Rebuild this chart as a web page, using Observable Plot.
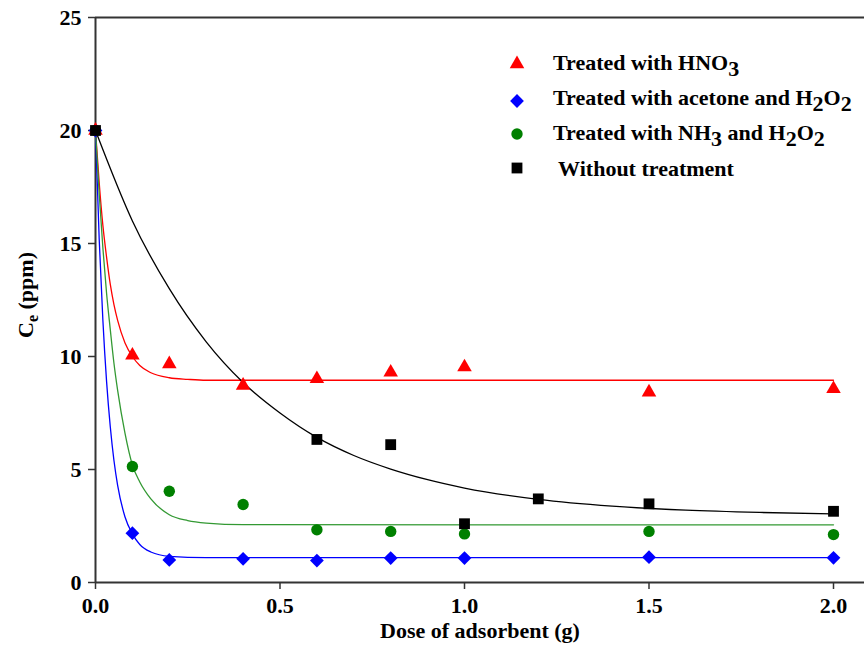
<!DOCTYPE html>
<html><head><meta charset="utf-8">
<script src="https://cdn.jsdelivr.net/npm/d3@7"></script>
<script src="https://cdn.jsdelivr.net/npm/@observablehq/plot@0.6"></script>
<style>
body{margin:0;background:#fff;}
#chart{position:relative;width:864px;height:666px;overflow:hidden;}
#chart svg{position:absolute;left:0;top:0;}
</style></head><body><div id="chart"></div>
<script>
// ---- measured points ----
const doseX = [0, 0.1, 0.2, 0.4, 0.6, 0.8, 1.0, 1.5, 2.0];
const hno3 = [20, 10.05, 9.67, 8.72, 9.01, 9.3, 9.53, 8.42, 8.57];
const acetone = [20, 2.18, 1.0, 1.05, 0.97, 1.08, 1.08, 1.12, 1.09];
const nh3 = [20, 5.13, 4.04, 3.45, 2.33, 2.26, 2.15, 2.26, 2.12];
const untreatedX = [0, 0.6, 0.8, 1.0, 1.2, 1.5, 2.0];
const untreated = [20, 6.33, 6.1, 2.6, 3.7, 3.48, 3.15];

// ---- fitted curves ----
const hno3FitX = [0, 0.01, 0.02, 0.03, 0.04, 0.05, 0.06, 0.08, 0.1, 0.12, 0.15, 0.2, 0.25, 0.3, 2.0];
const hno3FitY = [20, 17.7, 15.8, 14.4, 13.2, 12.3, 11.6, 10.6, 10.0, 9.6, 9.28, 9.06, 8.99, 8.95, 8.95];
const acetoneFitX = [0, 0.01, 0.02, 0.03, 0.04, 0.05, 0.06, 0.08, 0.1, 0.12, 0.15, 0.2, 0.3, 2.0];
const acetoneFitY = [20, 15.2, 11.6, 8.9, 6.9, 5.4, 4.3, 2.9, 2.15, 1.68, 1.35, 1.16, 1.1, 1.1];
const nh3FitX = [0, 0.01, 0.02, 0.03, 0.04, 0.05, 0.06, 0.08, 0.1, 0.12, 0.15, 0.2, 0.25, 0.3, 0.4, 2.0];
const nh3FitY = [20, 17.2, 14.8, 12.8, 11.2, 9.7, 8.5, 6.6, 5.2, 4.45, 3.7, 3.0, 2.74, 2.63, 2.56, 2.55];
const untreatedFitX = [0, 0.1, 0.2, 0.3, 0.4, 0.5, 0.6, 0.7, 0.8, 0.9, 1.0, 1.2, 1.4, 1.6, 1.8, 2.0];
const untreatedFitY = [20, 16.0, 13.0, 10.65, 8.85, 7.5, 6.42, 5.62, 5.02, 4.55, 4.18, 3.68, 3.38, 3.2, 3.1, 3.04];

// ---- labels ----
const seriesNames = ["Treated with HNO3", "Treated with acetone and H2O2", "Treated with NH3 and H2O2", " Without treatment"];
const seriesColors = ["#ff0000", "#0000ff", "#008000", "#000000"];
const lineColors = ["#ff0000", "#0000ff", "#339933", "#000000"];
const seriesSymbols = ["triangle", "diamond2", "circle", "square"];
const seriesR = [5.4, 6.2, 5.7, 6.1];
const xTicks = [0, 0.5, 1.0, 1.5, 2.0];
const yTicks = [0, 5, 10, 15, 20, 25];
const xTitle = "Dose of adsorbent (g)";
const yTitleMain = "C", yTitleSub = "e", yTitleRest = " (ppm)";

const pts = (xs, ys) => xs.map((x, i) => ({x, y: ys[i]}));
const pointSets = [pts(doseX, hno3), pts(doseX, acetone), pts(doseX, nh3), pts(untreatedX, untreated)];
const fitSets = [pts(hno3FitX, hno3FitY), pts(acetoneFitX, acetoneFitY), pts(nh3FitX, nh3FitY), pts(untreatedFitX, untreatedFitY)];

const FONT = '"Liberation Serif", "Times New Roman", serif';
const axisColor = "#333";

const marks = [
  Plot.ruleY([0, 25], {stroke: axisColor, strokeWidth: 2}),
  Plot.ruleX([0], {stroke: axisColor, strokeWidth: 2}),
  Plot.axisX({ticks: xTicks, tickFormat: d3.format(".1f"), tickSize: 7, tickPadding: 8, stroke: axisColor, strokeWidth: 1.5, label: null}),
  Plot.axisY({ticks: yTicks, tickSize: 7, tickPadding: 7, stroke: axisColor, strokeWidth: 1.5, label: null})
];
fitSets.forEach((d, i) => marks.push(Plot.line(d, {x: "x", y: "y", stroke: lineColors[i], strokeWidth: 1.3, curve: "monotone-x"})));
[2, 1, 0, 3].forEach(i => marks.push(Plot.dot(pointSets[i], {x: "x", y: "y", symbol: seriesSymbols[i], r: seriesR[i], fill: seriesColors[i], stroke: "none"})));

const chart = Plot.plot({
  width: 864, height: 666,
  marginLeft: 95, marginRight: 0, marginTop: 17, marginBottom: 84,
  x: {domain: [0, 2.084]},
  y: {domain: [0, 25]},
  style: {fontFamily: FONT, fontWeight: "bold", fontSize: "22px", color: "#000", background: "#fff", overflow: "visible"},
  marks
});
document.getElementById("chart").appendChild(chart);

const svg = d3.select(chart);
// x title
svg.append("text").attr("x", 480).attr("y", 638).attr("text-anchor", "middle")
  .attr("font-family", FONT).attr("font-weight", "bold").attr("font-size", 22).text(xTitle);
// y title
const yt = svg.append("text").attr("transform", "translate(33,295) rotate(-90)").attr("text-anchor", "middle")
  .attr("font-family", FONT).attr("font-weight", "bold").attr("font-size", 22);
yt.append("tspan").text(yTitleMain);
yt.append("tspan").attr("font-size", 16).attr("dy", 5).text(yTitleSub);
yt.append("tspan").attr("dy", -5).text(yTitleRest);

// legend
const symbolTypes = {triangle: d3.symbolTriangle, diamond2: d3.symbolDiamond2, circle: d3.symbolCircle, square: d3.symbolSquare};
const legBase = [70, 105, 140, 176];
const legMarkY = [64, 101, 134, 168];
seriesNames.forEach((name, i) => {
  svg.append("path").attr("transform", `translate(517,${legMarkY[i]})`)
    .attr("d", d3.symbol(symbolTypes[seriesSymbols[i]], Math.PI * seriesR[i] * seriesR[i])())
    .attr("fill", seriesColors[i]);
  const t = svg.append("text").attr("x", 553).attr("y", legBase[i]).attr("text-anchor", "start")
    .attr("font-family", FONT).attr("font-weight", "bold").attr("font-size", 22).style("white-space", "pre");
  const parts = name.split(/(\d)/);
  let sub = false;
  parts.forEach(p => {
    if (p === "") return;
    if (/^\d$/.test(p)) {
      t.append("tspan").attr("dy", sub ? 0 : 6).text(p);
      sub = true;
    } else {
      t.append("tspan").attr("dy", sub ? -6 : 0).text(p);
      sub = false;
    }
  });
});
</script></body></html>
